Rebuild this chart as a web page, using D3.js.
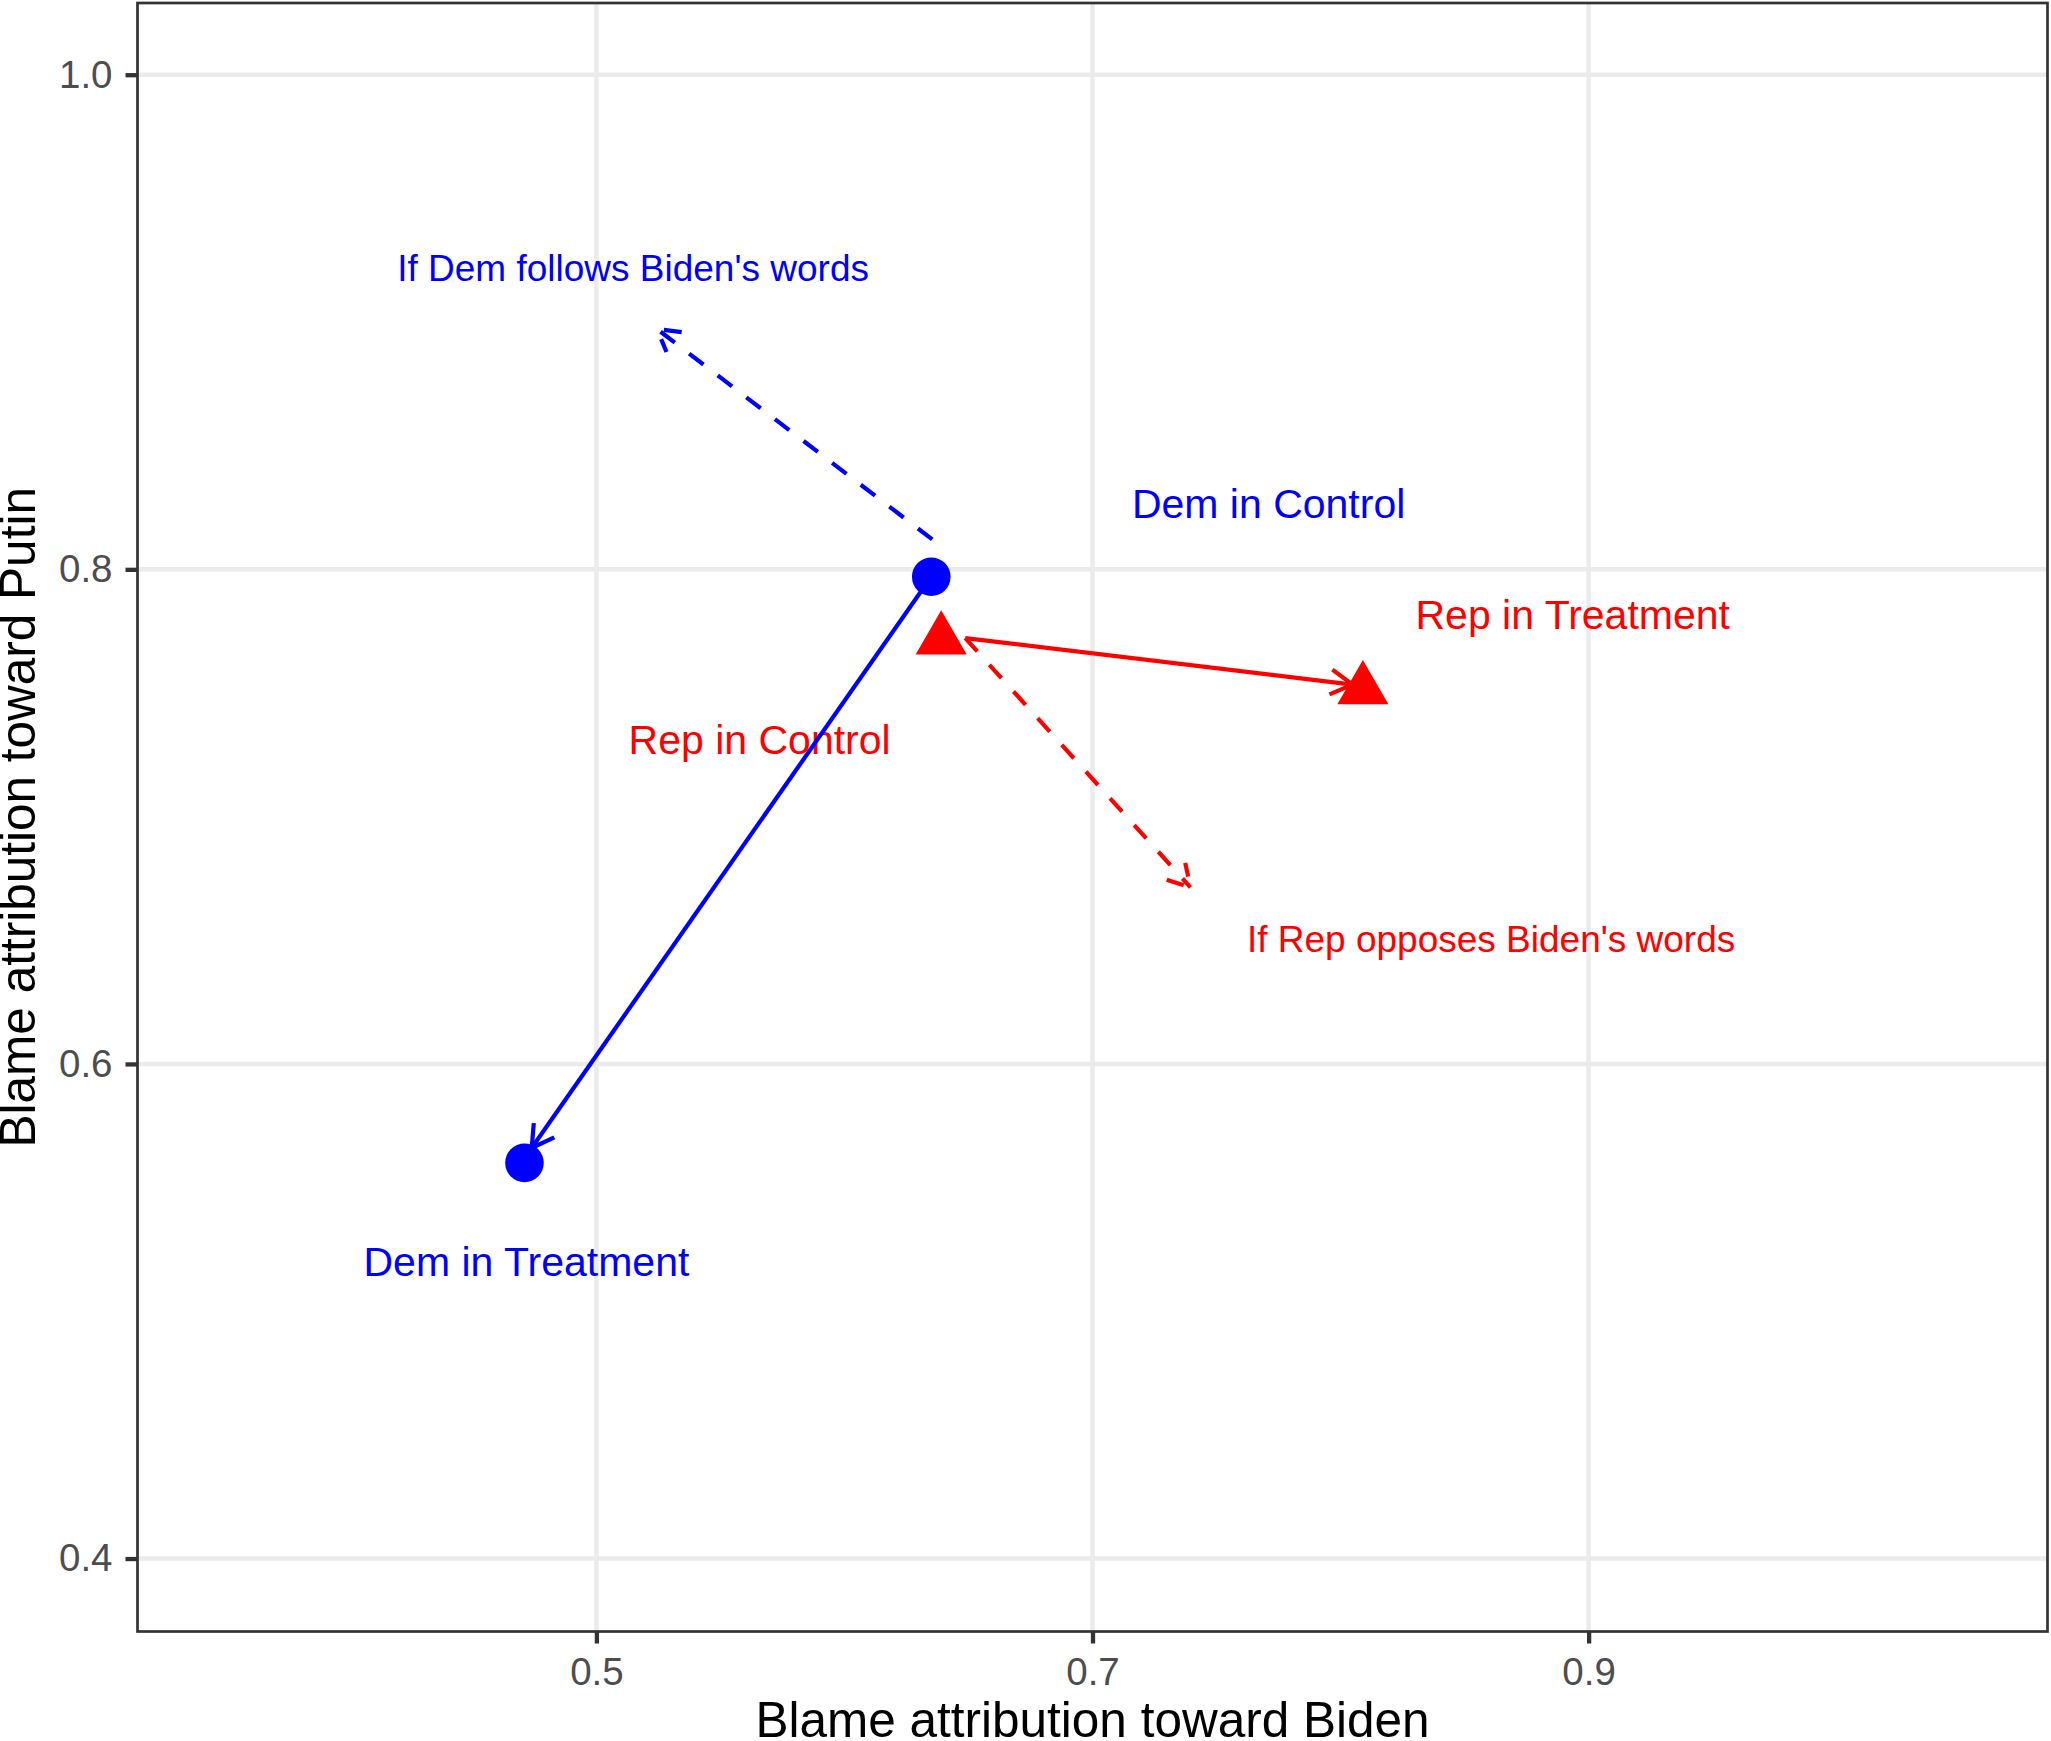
<!DOCTYPE html>
<html>
<head>
<meta charset="utf-8">
<script src="https://cdn.jsdelivr.net/npm/d3@7"></script>
<style>
  body { margin: 0; background: #fff; }
  text { font-family: "Liberation Sans", Arial, sans-serif; }
</style>
</head>
<body>
<svg width="2051" height="1741"></svg>
<script>
// data
const groups = ['Dem', 'Rep'];
const controlX = [0.635, 0.639];
const controlY = [0.797, 0.7715];
const treatX = [0.471, 0.809];
const treatY = [0.560, 0.7514];

// observed shift (solid) and hypothetical shift (dashed)
const solidFromX = [0.635, 0.6487];
const solidFromY = [0.797, 0.7722];
const solidToX = [0.4739, 0.8048];
const solidToY = [0.566, 0.7534];
const dashFromX = [0.6354, 0.6487];
const dashFromY = [0.8121, 0.7722];
const dashToX = [0.5244, 0.7395];
const dashToY = [0.8972, 0.6714];

const labelText = ['Dem in Control', 'Dem in Treatment', 'Rep in Control', 'Rep in Treatment',
  "If Dem follows Biden's words", "If Rep opposes Biden's words"];
const labelGroup = ['Dem', 'Dem', 'Rep', 'Rep', 'Dem', 'Rep'];
const labelX = [0.771, 0.4718, 0.5658, 0.8936, 0.5148, 0.8607];
const labelY = [0.8267, 0.520, 0.7312, 0.7818, 0.922, 0.6507];
const labelSmall = [false, false, false, false, true, true];

const xTicks = [0.5, 0.7, 0.9];
const yTicks = [0.4, 0.6, 0.8, 1.0];

const svg = d3.select('svg');
const width = +svg.attr('width');
const height = +svg.attr('height');
const margin = {top: 3, right: 3.5, bottom: 109.5, left: 137.5};
const innerWidth = width - margin.left - margin.right;
const innerHeight = height - margin.top - margin.bottom;

const xScale = d3.scaleLinear().domain([0.315, 1.085]).range([0, innerWidth]);
const yScale = d3.scaleLinear().domain([0.3705, 1.029]).range([innerHeight, 0]);
const color = d3.scaleOrdinal().domain(groups).range(['#0000FF', '#FF0000']);

const g = svg.append('g')
  .attr('transform', `translate(${margin.left},${margin.top})`);

// grid
g.selectAll('.vgrid').data(xTicks).enter().append('line')
  .attr('x1', d => xScale(d)).attr('x2', d => xScale(d))
  .attr('y1', 0).attr('y2', innerHeight)
  .attr('stroke', '#EBEBEB').attr('stroke-width', 4.5);
g.selectAll('.hgrid').data(yTicks).enter().append('line')
  .attr('y1', d => yScale(d)).attr('y2', d => yScale(d))
  .attr('x1', 0).attr('x2', innerWidth)
  .attr('stroke', '#EBEBEB').attr('stroke-width', 4.5);

// axes
const xAxisG = g.append('g')
  .attr('transform', `translate(0,${innerHeight})`)
  .call(d3.axisBottom(xScale).tickValues(xTicks).tickFormat(d3.format('.1f')).tickSize(12).tickPadding(14));
const yAxisG = g.append('g')
  .call(d3.axisLeft(yScale).tickValues(yTicks).tickFormat(d3.format('.1f')).tickSize(12).tickPadding(13));
[xAxisG, yAxisG].forEach(a => {
  a.select('.domain').remove();
  a.selectAll('.tick line').attr('stroke', '#333333').attr('stroke-width', 4.3);
  a.selectAll('.tick text')
    .attr('fill', '#4D4D4D')
    .style('font-size', '38.5px')
    .style('font-family', '"Liberation Sans", Arial, sans-serif');
});

// labels
g.selectAll('.lbl').data(labelText).enter().append('text')
  .attr('x', (d, i) => xScale(labelX[i]))
  .attr('y', (d, i) => yScale(labelY[i]))
  .attr('dy', '0.35em')
  .attr('text-anchor', 'middle')
  .attr('fill', (d, i) => color(labelGroup[i]))
  .style('font-size', (d, i) => labelSmall[i] ? '37px' : '41px')
  .text(d => d);

// arrows
const arrow = (x1, y1, x2, y2, grp, dashed) => {
  const ax = xScale(x1), ay = yScale(y1), bx = xScale(x2), by = yScale(y2);
  const ang = Math.atan2(by - ay, bx - ax);
  const len = 25, spread = Math.PI / 6;
  const h1 = [bx - len * Math.cos(ang - spread), by - len * Math.sin(ang - spread)];
  const h2 = [bx - len * Math.cos(ang + spread), by - len * Math.sin(ang + spread)];
  const s = g.append('g')
    .attr('stroke', color(grp)).attr('stroke-width', 4.2).attr('fill', 'none')
    .attr('stroke-dasharray', dashed ? '18,18' : null);
  s.append('line').attr('x1', ax).attr('y1', ay).attr('x2', bx).attr('y2', by);
  s.append('path').attr('d', d3.line()([h1, [bx, by], h2]));
};

// points
groups.forEach((grp, i) => {
  [[controlX[i], controlY[i]], [treatX[i], treatY[i]]].forEach(p => {
    if (grp === 'Dem') {
      g.append('circle')
        .attr('cx', xScale(p[0])).attr('cy', yScale(p[1]))
        .attr('r', 19.3).attr('fill', color(grp));
    } else {
      g.append('path')
        .attr('transform', `translate(${xScale(p[0])},${yScale(p[1])})`)
        .attr('d', d3.symbol().type(d3.symbolTriangle).size(1130)())
        .attr('fill', color(grp));
    }
  });
});

groups.forEach((grp, i) => {
  arrow(solidFromX[i], solidFromY[i], solidToX[i], solidToY[i], grp, false);
  arrow(dashFromX[i], dashFromY[i], dashToX[i], dashToY[i], grp, true);
});

// panel border
g.append('rect')
  .attr('width', innerWidth).attr('height', innerHeight)
  .attr('fill', 'none').attr('stroke', '#333333').attr('stroke-width', 2.7);

// axis titles
svg.append('text')
  .attr('x', margin.left + innerWidth / 2)
  .attr('y', 1737)
  .attr('text-anchor', 'middle')
  .attr('fill', '#000')
  .style('font-size', '49.5px')
  .text('Blame attribution toward Biden');

svg.append('text')
  .attr('transform', `translate(35,${margin.top + innerHeight / 2}) rotate(-90)`)
  .attr('text-anchor', 'middle')
  .attr('fill', '#000')
  .style('font-size', '49.5px')
  .text('Blame attribution toward Putin');
</script>
</body>
</html>
